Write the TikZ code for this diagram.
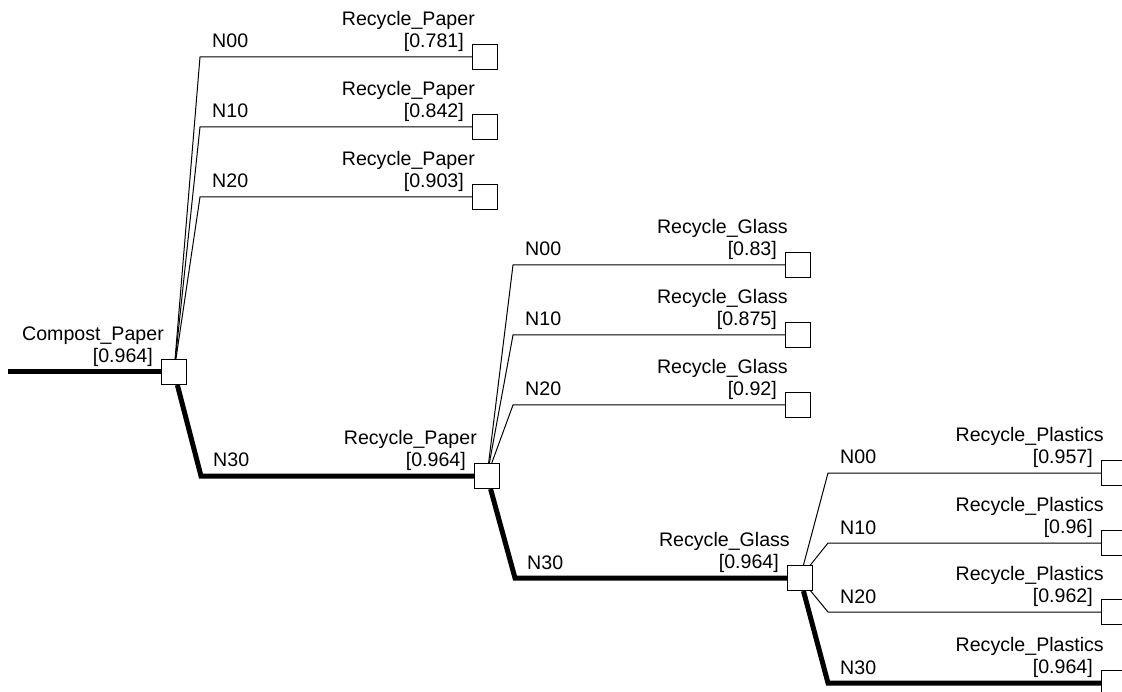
\documentclass[tikz,border=0pt]{standalone}
\usepackage{fontspec}
\setmainfont{Liberation Sans}
\usepackage{tikz}
\usetikzlibrary{positioning}
\tikzset{
  decbox/.style={rectangle,draw=black,fill=white,line width=1pt,minimum size=25pt,inner sep=0pt},
  branch/.style={line width=1pt,draw=black},
  bestpath/.style={line width=5pt,draw=black},
  choice/.style={anchor=base west,inner sep=0pt,xshift=12pt,yshift=9pt},
  result/.style={anchor=south east,align=right,inner sep=0pt,xshift=3pt,yshift=-8pt}
}

\begin{document}
\begin{tikzpicture}[x=1pt,y=-1pt,font=\fontsize{19.6}{22}\selectfont]
  \useasboundingbox (0,0) rectangle (1122,692);

  % decision nodes
  \node[decbox] (compost) at (174,372) {};
  \node[decbox] (paper) at (487,476) {};
  \node[decbox] (glass) at (800,578) {};
  % end nodes
  \node[decbox] (paper0) at (485,57) {};
  \node[decbox] (paper1) at (485,127) {};
  \node[decbox] (paper2) at (485,197) {};
  \node[decbox] (glass0) at (798,265) {};
  \node[decbox] (glass1) at (798,335) {};
  \node[decbox] (glass2) at (798,405) {};
  \node[decbox] (plastic0) at (1114,473) {};
  \node[decbox] (plastic1) at (1114,543) {};
  \node[decbox] (plastic2) at (1114,612) {};
  \node[decbox] (plastic3) at (1114,683) {};

  % bends
  \coordinate (start) at (8,372);
  \coordinate (c0) at (200,57);
  \coordinate (c1) at (200,127);
  \coordinate (c2) at (200,197);
  \coordinate (c3) at (201,476);
  \coordinate (p0) at (513,265);
  \coordinate (p1) at (513,335);
  \coordinate (p2) at (513,405);
  \coordinate (p3) at (515,578);
  \coordinate (g0) at (828,473);
  \coordinate (g1) at (828,543);
  \coordinate (g2) at (828,612);
  \coordinate (g3) at (828,683);

  \draw[bestpath] (start) -- (compost);
  \draw[branch] (compost) -- (c0) -- (paper0);
  \draw[branch] (compost) -- (c1) -- (paper1);
  \draw[branch] (compost) -- (c2) -- (paper2);
  \draw[bestpath] (compost) -- (c3) -- (paper);
  \draw[branch] (paper) -- (p0) -- (glass0);
  \draw[branch] (paper) -- (p1) -- (glass1);
  \draw[branch] (paper) -- (p2) -- (glass2);
  \draw[bestpath] (paper) -- (p3) -- (glass);
  \draw[branch] (glass) -- (g0) -- (plastic0);
  \draw[branch] (glass) -- (g1) -- (plastic1);
  \draw[branch] (glass) -- (g2) -- (plastic2);
  \draw[bestpath] (glass) -- (g3) -- (plastic3);

  % branch labels
  \node[choice] (c0-lab) at (c0) {N00};
  \node[choice] (c1-lab) at (c1) {N10};
  \node[choice] (c2-lab) at (c2) {N20};
  \node[choice] (c3-lab) at (c3) {N30};
  \node[choice] (p0-lab) at (p0) {N00};
  \node[choice] (p1-lab) at (p1) {N10};
  \node[choice] (p2-lab) at (p2) {N20};
  \node[choice] (p3-lab) at (p3) {N30};
  \node[choice] (g0-lab) at (g0) {N00};
  \node[choice] (g1-lab) at (g1) {N10};
  \node[choice] (g2-lab) at (g2) {N20};
  \node[choice] (g3-lab) at (g3) {N30};

  % node values
  \node[result] (compost-lab) at (compost.north west) {Compost\_Paper\\\relax[0.964]\hspace*{11pt}};
  \node[result] (paper-lab) at (paper.north west) {Recycle\_Paper\\\relax[0.964]\hspace*{11pt}};
  \node[result] (glass-lab) at (glass.north west) {Recycle\_Glass\\\relax[0.964]\hspace*{11pt}};
  \node[result] (paper0-lab) at (paper0.north west) {Recycle\_Paper\\\relax[0.781]\hspace*{11pt}};
  \node[result] (paper1-lab) at (paper1.north west) {Recycle\_Paper\\\relax[0.842]\hspace*{11pt}};
  \node[result] (paper2-lab) at (paper2.north west) {Recycle\_Paper\\\relax[0.903]\hspace*{11pt}};
  \node[result] (glass0-lab) at (glass0.north west) {Recycle\_Glass\\\relax[0.83]\hspace*{11pt}};
  \node[result] (glass1-lab) at (glass1.north west) {Recycle\_Glass\\\relax[0.875]\hspace*{11pt}};
  \node[result] (glass2-lab) at (glass2.north west) {Recycle\_Glass\\\relax[0.92]\hspace*{11pt}};
  \node[result] (plastic0-lab) at (plastic0.north west) {Recycle\_Plastics\\\relax[0.957]\hspace*{11pt}};
  \node[result] (plastic1-lab) at (plastic1.north west) {Recycle\_Plastics\\\relax[0.96]\hspace*{11pt}};
  \node[result] (plastic2-lab) at (plastic2.north west) {Recycle\_Plastics\\\relax[0.962]\hspace*{11pt}};
  \node[result] (plastic3-lab) at (plastic3.north west) {Recycle\_Plastics\\\relax[0.964]\hspace*{11pt}};
\end{tikzpicture}
\end{document}
